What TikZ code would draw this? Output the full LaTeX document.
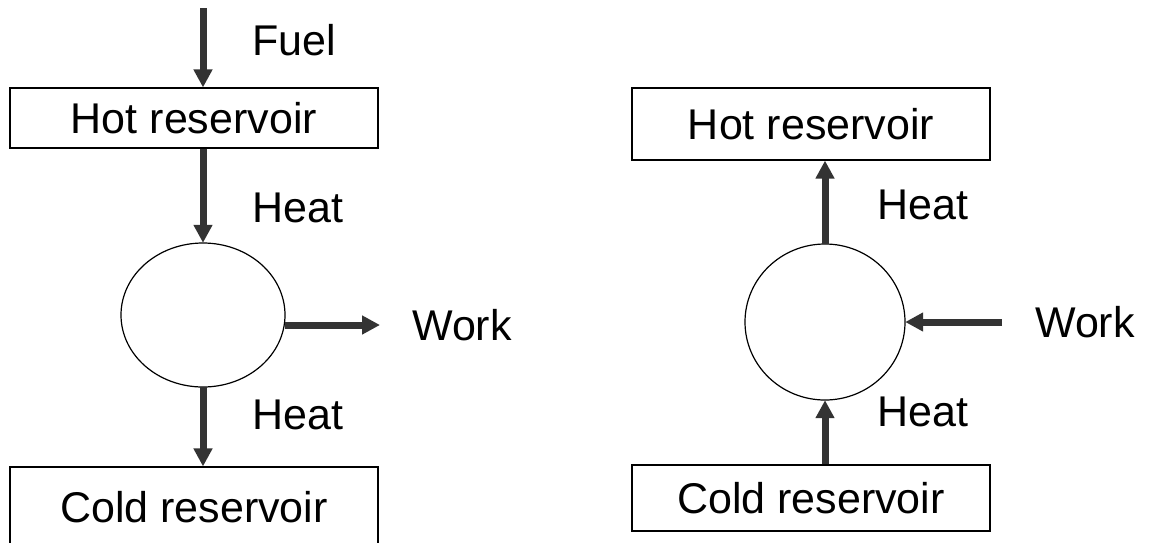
\documentclass[tikz,border=0pt]{standalone}
\usepackage{fontspec}
\setmainfont{Liberation Sans}
\usetikzlibrary{arrows.meta}
\begin{document}
\begin{tikzpicture}[x=1pt,y=-1pt,
  box/.style={draw,line width=1.2pt,minimum height=60pt,inner sep=0pt,font=\fontsize{43}{50}\selectfont},
  flow/.style={line width=7pt,color=black!80,-{Triangle[length=18pt,width=18pt]}},
  lbl/.style={font=\fontsize{43}{50}\selectfont,anchor=west,inner sep=0pt}]
\useasboundingbox (0,0) rectangle (1155,542);
%Engine
\node[box,minimum width=368pt] (hotA) at (194,118) {Hot reservoir};
\draw[line width=1.2pt] (203,315) ellipse (82 and 72);
\node (engA) at (203,315) [minimum width=164pt,minimum height=144pt,inner sep=0pt] {};
\node[box,minimum width=368pt,minimum height=80pt] (coldA) at (194,507) {Cold reservoir};
\coordinate (fuelA) at (203,8);
\coordinate (workA) at (380,325);
\draw[flow] (fuelA) -- (hotA.north -| fuelA);
\draw[flow] (hotA.south -| engA) -- (engA.north);
\draw[flow] (engA.south) -- (coldA.north -| engA);
\draw[flow] (engA.east |- workA) -- (workA);
\node[lbl] (fuelL) at (252,40) {Fuel};
\node[lbl] (heatA1) at (252,208) {Heat};
\node[lbl] (workL) at (412,325) {Work};
\node[lbl] (heatA2) at (252,415) {Heat};
%Heat pump
\node[box,minimum width=358pt,minimum height=72pt] (hotB) at (811,124) {Hot reservoir};
\draw[line width=1.2pt] (825,322) ellipse (80 and 78);
\node (engB) at (825,322) [minimum width=160pt,minimum height=156pt,inner sep=0pt] {};
\node[box,minimum width=358pt,minimum height=66pt] (coldB) at (811,498) {Cold reservoir};
\coordinate (workB) at (1002,322);
\draw[flow] (engB.north) -- (hotB.south -| engB);
\draw[flow] (coldB.north -| engB) -- (engB.south);
\draw[flow] (workB) -- (engB.east);
\node[lbl] (heatB1) at (877,205) {Heat};
\node[lbl] (workR) at (1035,322) {Work};
\node[lbl] (heatB2) at (877,412) {Heat};
\end{tikzpicture}
\end{document}
